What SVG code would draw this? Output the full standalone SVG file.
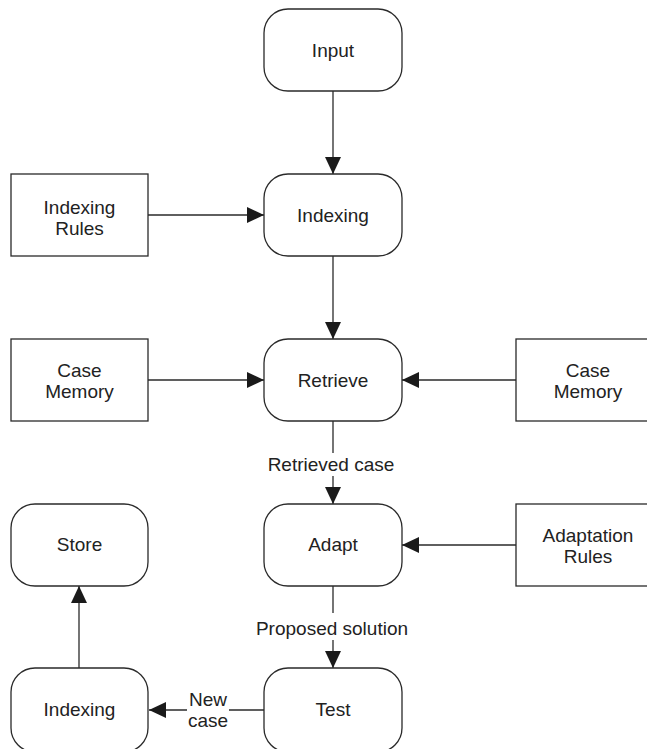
<svg xmlns="http://www.w3.org/2000/svg" width="647" height="749" viewBox="0 0 647 749">
<defs>
<marker id="ah" markerUnits="userSpaceOnUse" markerWidth="17" markerHeight="16" refX="17" refY="8" orient="auto">
<path d="M0,0 L17,8 L0,16 z" fill="#1a1a1a"/>
</marker>
<style>
.box{fill:#fff;stroke:#2a2a2a;stroke-width:1.3}
.t{font-family:"Liberation Sans",Arial,Helvetica,sans-serif;font-size:19px;fill:#222;text-anchor:middle}
.c{fill:none;stroke:#2a2a2a;stroke-width:1.3}
</style>
</defs>
<rect width="647" height="749" fill="#fff"/>
<g id="connectors">
<line class="c" x1="333" y1="91" x2="333" y2="174" marker-end="url(#ah)"/>
<line class="c" x1="148" y1="215" x2="264" y2="215" marker-end="url(#ah)"/>
<line class="c" x1="333" y1="256" x2="333" y2="339" marker-end="url(#ah)"/>
<line class="c" x1="148" y1="380" x2="264" y2="380" marker-end="url(#ah)"/>
<line class="c" x1="516" y1="380" x2="402" y2="380" marker-end="url(#ah)"/>
<line class="c" x1="333" y1="421" x2="333" y2="453"/>
<line class="c" x1="333" y1="476" x2="333" y2="504" marker-end="url(#ah)"/>
<text class="t" x="331" y="471">Retrieved case</text>
<line class="c" x1="516" y1="545" x2="402" y2="545" marker-end="url(#ah)"/>
<line class="c" x1="333" y1="586" x2="333" y2="613"/>
<line class="c" x1="333" y1="640" x2="333" y2="668" marker-end="url(#ah)"/>
<text class="t" x="332" y="635">Proposed solution</text>
<line class="c" x1="264" y1="710" x2="229" y2="710"/>
<line class="c" x1="187" y1="710" x2="149" y2="710" marker-end="url(#ah)"/>
<text class="t" x="208" y="706">New</text>
<text class="t" x="208" y="727">case</text>
<line class="c" x1="79" y1="668" x2="79" y2="586" marker-end="url(#ah)"/>
</g>
<g id="input"><rect class="box" x="264" y="9" width="138" height="82" rx="24"/><text class="t" x="333" y="57">Input</text></g>
<g id="indexing-rules"><rect class="box" x="11" y="174" width="137" height="82"/><text class="t" x="79.5" y="214">Indexing</text><text class="t" x="79.5" y="235">Rules</text></g>
<g id="indexing"><rect class="box" x="264" y="174" width="138" height="82" rx="24"/><text class="t" x="333" y="222">Indexing</text></g>
<g id="case-memory-left"><rect class="box" x="11" y="339" width="137" height="82"/><text class="t" x="79.5" y="377">Case</text><text class="t" x="79.5" y="398">Memory</text></g>
<g id="retrieve"><rect class="box" x="264" y="339" width="138" height="82" rx="24"/><text class="t" x="333" y="387">Retrieve</text></g>
<g id="case-memory-right"><rect class="box" x="516" y="339" width="144" height="82"/><text class="t" x="588" y="377">Case</text><text class="t" x="588" y="398">Memory</text></g>
<g id="store"><rect class="box" x="11" y="504" width="137" height="82" rx="24"/><text class="t" x="79.5" y="551">Store</text></g>
<g id="adapt"><rect class="box" x="264" y="504" width="138" height="82" rx="24"/><text class="t" x="333" y="551">Adapt</text></g>
<g id="adaptation-rules"><rect class="box" x="516" y="504" width="144" height="82"/><text class="t" x="588" y="542">Adaptation</text><text class="t" x="588" y="563">Rules</text></g>
<g id="indexing-2"><rect class="box" x="11" y="668" width="137" height="84" rx="24"/><text class="t" x="79.5" y="716">Indexing</text></g>
<g id="test"><rect class="box" x="264" y="668" width="138" height="84" rx="24"/><text class="t" x="333" y="716">Test</text></g>
</svg>
